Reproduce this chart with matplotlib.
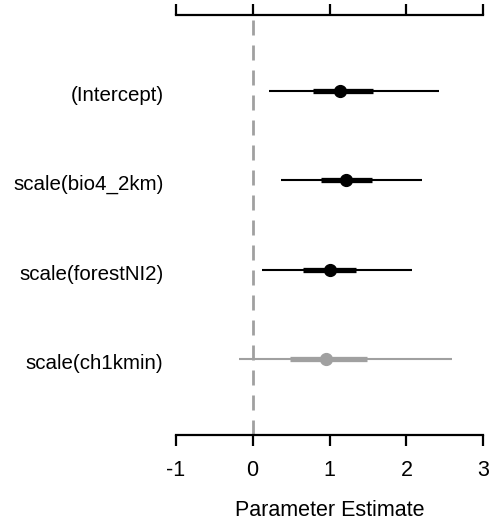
import matplotlib
matplotlib.use("Agg")
import matplotlib.pyplot as plt

# coefficient summaries
labels = ["(Intercept)", "scale(bio4_2km)", "scale(forestNI2)", "scale(ch1kmin)"]
est = [1.14, 1.22, 1.00, 0.95]
lo95 = [0.21, 0.37, 0.12, -0.18]
hi95 = [2.42, 2.20, 2.07, 2.59]
lo50 = [0.78, 0.89, 0.65, 0.48]
hi50 = [1.56, 1.55, 1.34, 1.49]
colors = ["black", "black", "black", "#a0a0a0"]
ticks = [-1, 0, 1, 2, 3]

plt.rcParams["font.family"] = ["Liberation Sans", "DejaVu Sans"]

fig = plt.figure(figsize=(4.94, 5.2), dpi=100)
ax = fig.add_axes([175.7 / 494, 1 - 435 / 520, (483.3 - 175.7) / 494, (435 - 15) / 520])

n = len(labels)
ypos = list(range(n, 0, -1))

ax.axvline(0, color="#a0a0a0", lw=2, dashes=(5.4, 3.6), zorder=1)

for i, y in enumerate(ypos):
    c = colors[i]
    ax.plot([lo95[i], hi95[i]], [y, y], color=c, lw=1.5, solid_capstyle="butt", zorder=2)
    ax.plot([lo50[i], hi50[i]], [y, y], color=c, lw=3.8, solid_capstyle="butt", zorder=3)
    ax.plot(est[i], y, "o", color=c, ms=8.5, zorder=4)
    # labels sit a few pixels below the row line, as in the original
    ax.text(-1.16, y - 0.05, labels[i], ha="right", va="center", fontsize=14.8,
            clip_on=False)

ax.set_xlim(-1, 3)
ax.set_ylim(0.15, n + 0.85)

for side in ["left", "right"]:
    ax.spines[side].set_visible(False)
for side in ["top", "bottom"]:
    ax.spines[side].set_linewidth(1.6)
    ax.spines[side].set_bounds(-1, 3)

ax.set_yticks([])
ax.set_xticks(ticks)
ax.set_xticklabels([str(t) for t in ticks], fontsize=15.5)
ax.tick_params(axis="x", top=True, bottom=True, direction="out", length=8, width=1.6, pad=10)
ax.set_xlabel("Parameter Estimate", fontsize=15.5, labelpad=14)

fig.savefig("out.png", dpi=100)
